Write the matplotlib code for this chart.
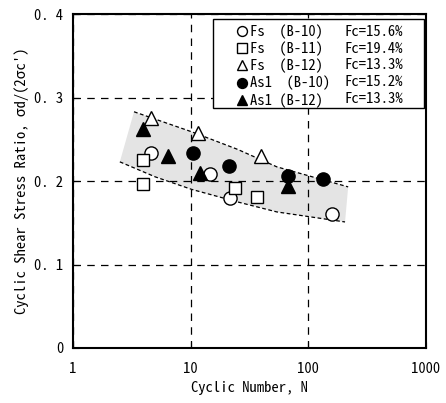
import matplotlib
matplotlib.use("Agg")
import matplotlib.pyplot as plt
from matplotlib.lines import Line2D
from matplotlib.patches import Rectangle
from matplotlib.ticker import NullLocator

plt.rcParams['font.family'] = ['Noto Sans Mono CJK JP', 'Noto Sans CJK JP', 'DejaVu Sans']

# Fs (B-10) open circle
fs10_n = [4.6, 14.6, 21.6, 158]
fs10_r = [0.234, 0.208, 0.180, 0.161]
# Fs (B-11) open square
fs11_n = [3.9, 3.9, 23.8, 36.4]
fs11_r = [0.225, 0.196, 0.192, 0.181]
# Fs (B-12) open triangle
fs12_n = [4.6, 11.6, 39.6]
fs12_r = [0.275, 0.258, 0.230]
# As1 (B-10) filled circle
as10_n = [10.5, 21.2, 67.5, 132]
as10_r = [0.234, 0.218, 0.206, 0.202]
# As1 (B-12) filled triangle
as12_n = [3.96, 6.45, 12.0, 67.5]
as12_r = [0.262, 0.230, 0.210, 0.194]

# range band (upper and lower bounds)
band_up_n = [3.3, 10.2, 25, 54, 218]
band_up_r = [0.283, 0.259, 0.238, 0.217, 0.193]
band_lo_n = [2.5, 5, 10.2, 25, 54, 205]
band_lo_r = [0.223, 0.205, 0.190, 0.175, 0.163, 0.151]

labels = ["Fs  (B-10)", "Fs  (B-11)", "Fs  (B-12)", "As1  (B-10)", "As1 (B-12)"]
fc_labels = ["Fc=15.6%", "Fc=19.4%", "Fc=13.3%", "Fc=15.2%", "Fc=13.3%"]

fig = plt.figure(figsize=(4.46, 4.03), dpi=100)
ax = fig.add_axes([0.1637, 0.1365, 0.7915, 0.8285])

# gray band
poly_n = band_up_n + band_lo_n[::-1]
poly_r = band_up_r + band_lo_r[::-1]
ax.fill(poly_n, poly_r, color="#e4e4e4", lw=0, zorder=1)
ax.plot(band_up_n, band_up_r, ls=(0, (3, 2)), color="black", lw=0.9, zorder=2)
ax.plot(band_lo_n, band_lo_r, ls=(0, (3, 2)), color="black", lw=0.9, zorder=2)

ax.grid(True, ls=(0, (6, 5)), color="black", lw=0.9, zorder=0)

mk = dict(ls="none", mec="black", mew=1.0, zorder=3)
h1, = ax.plot(fs10_n, fs10_r, marker="o", ms=9.5, mfc="white", **mk)
h2, = ax.plot(fs11_n, fs11_r, marker="s", ms=9, mfc="white", **mk)
h3, = ax.plot(fs12_n, fs12_r, marker="^", ms=10, mfc="white", **mk)
h4, = ax.plot(as10_n, as10_r, marker="o", ms=9.5, mfc="black", **mk)
h5, = ax.plot(as12_n, as12_r, marker="^", ms=10, mfc="black", **mk)

ax.set_xscale("log")
ax.set_xlim(1, 1000)
ax.set_ylim(0, 0.4)
ax.set_xticks([1, 10, 100, 1000])
ax.set_xticklabels(["1", "10", "100", "1000"])
ax.xaxis.set_minor_locator(NullLocator())
ax.set_yticks([0, 0.1, 0.2, 0.3, 0.4])
ax.set_yticklabels(["0", "0. 1", "0. 2", "0. 3", "0. 4"])
ax.tick_params(direction="in", length=4, labelsize=10.5, pad=7)
ax.tick_params(axis="x", pad=10)
for s in ax.spines.values():
    s.set_linewidth(1.5)

ax.set_xlabel("Cyclic Number, N", fontsize=10.5, labelpad=4)
ax.set_ylabel("Cyclic Shear Stress Ratio, σd/(2σc')", fontsize=10.5, labelpad=4)

# legend box drawn separately, legend entries without frame
ax.add_patch(Rectangle((0.3966, 0.7186), 0.5977, 0.2664, transform=ax.transAxes,
                       facecolor="white", edgecolor="black", lw=1.0, zorder=4))
blank = [Line2D([], [], ls="none") for _ in fc_labels]
leg = ax.legend([h1, h2, h3, h4, h5] + blank, labels + fc_labels, ncol=2,
                loc="upper left", bbox_to_anchor=(0.4646, 0.969),
                fontsize=10.5, frameon=False, handlelength=0.7, handletextpad=0.2,
                labelspacing=0.18, columnspacing=0.1, borderpad=0, borderaxespad=0,
                markerscale=0.75)
leg.set_zorder(5)

fig.savefig("out.png", dpi=100)
